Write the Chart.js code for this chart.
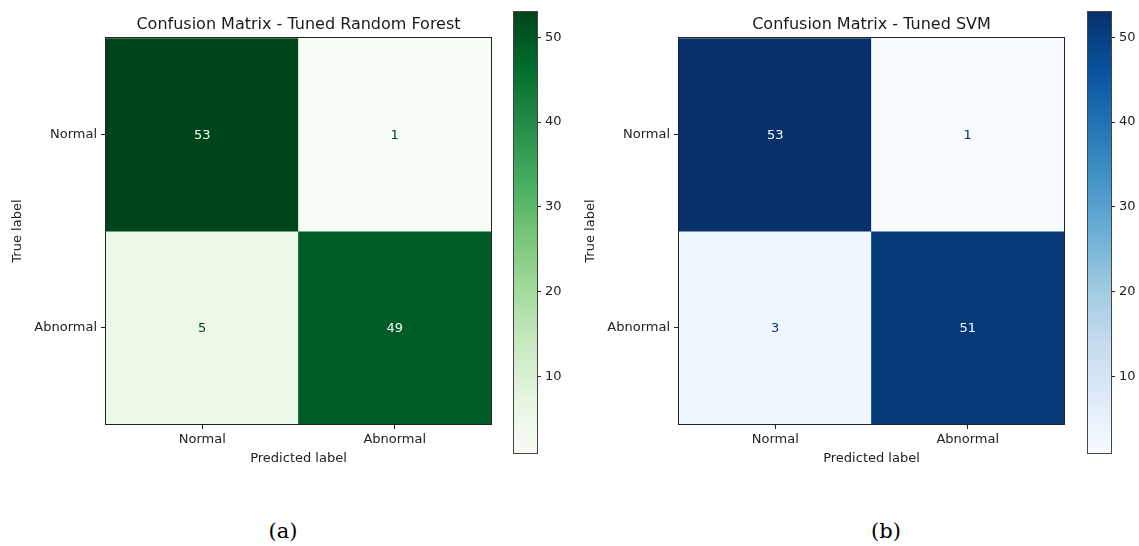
<!DOCTYPE html>
<html>
<head>
<meta charset="utf-8">
<script src="https://cdn.jsdelivr.net/npm/chart.js@4.4.1/dist/chart.umd.min.js"></script>
<style>
  html, body { margin: 0; padding: 0; background: #fff; width: 1139px; height: 546px; overflow: hidden; }
  canvas { position: absolute; }
  .cap { position: absolute; font-family: "DejaVu Serif", serif; font-size: 21px; color: #000;
         transform: translate(-50%, -50%); white-space: nowrap; }
</style>
</head>
<body>
<canvas id="rfMatrix" width="597" height="474" style="left:0px;top:0px"></canvas>
<canvas id="rfBar" width="110" height="470" style="left:480px;top:0px"></canvas>
<canvas id="svmMatrix" width="597" height="474" style="left:573px;top:0px"></canvas>
<canvas id="svmBar" width="110" height="470" style="left:1054px;top:0px"></canvas>
<div class="cap" style="left:283px;top:531px">(a)</div>
<div class="cap" style="left:886px;top:531px">(b)</div>

<script>
// Class names shared by both axes
const classLabels = ['Normal', 'Abnormal'];

// Rows = true label, columns = predicted label
const rfCounts = [[53, 1], [5, 49]];
const svmCounts = [[53, 1], [3, 51]];

// Colorbar tick values
const colorbarTicks = [10, 20, 30, 40, 50];

// Sequential colormaps (ColorBrewer 9-class)
const greens = ['#f7fcf5', '#e5f5e0', '#c7e9c0', '#a1d99b', '#74c476', '#41ab5d', '#238b45', '#006d2c', '#00441b'];
const blues  = ['#f7fbff', '#deebf7', '#c6dbef', '#9ecae1', '#6baed6', '#4292c6', '#2171b5', '#08519c', '#08306b'];

Chart.defaults.font.family = '"DejaVu Sans", sans-serif';
Chart.defaults.font.size = 13;
Chart.defaults.color = '#222';
Chart.defaults.animation = false;

function hexToRgb(h) {
  return [parseInt(h.slice(1, 3), 16), parseInt(h.slice(3, 5), 16), parseInt(h.slice(5, 7), 16)];
}
function sampleMap(stops, t) {
  t = Math.max(0, Math.min(1, t));
  const pos = t * (stops.length - 1);
  const i = Math.min(Math.floor(pos), stops.length - 2);
  const f = pos - i;
  const a = hexToRgb(stops[i]), b = hexToRgb(stops[i + 1]);
  const c = a.map((v, k) => Math.round(v + (b[k] - v) * f));
  return `rgb(${c[0]},${c[1]},${c[2]})`;
}

// Black frame around the plotting area
const framePlugin = {
  id: 'frame',
  afterDatasetsDraw(chart, args, opts) {
    const { ctx, chartArea: a } = chart;
    ctx.save();
    ctx.strokeStyle = opts.color || '#222';
    ctx.lineWidth = opts.width || 1;
    ctx.strokeRect(Math.round(a.left) - 0.5, Math.round(a.top) - 0.5,
                   Math.round(a.right - a.left) + 1, Math.round(a.bottom - a.top) + 1);
    ctx.restore();
  }
};

// Count written at the centre of each cell
const cellTextPlugin = {
  id: 'cellText',
  afterDatasetsDraw(chart, args, opts) {
    const { ctx } = chart;
    ctx.save();
    ctx.font = '13px "DejaVu Sans", sans-serif';
    ctx.textAlign = 'center';
    ctx.textBaseline = 'middle';
    chart.data.datasets.forEach((ds, di) => {
      const meta = chart.getDatasetMeta(di);
      meta.data.forEach((el, i) => {
        const v = ds.data[i].count;
        const p = el.getCenterPoint();
        ctx.fillStyle = v > opts.threshold ? opts.light : opts.dark;
        ctx.fillText(String(v), p.x, p.y + 1);
      });
    });
    ctx.restore();
  }
};

function drawMatrix(id, title, counts, stops) {
  const flat = counts.flat();
  const vmin = Math.min(...flat), vmax = Math.max(...flat);
  const norm = v => (v - vmin) / (vmax - vmin);

  const datasets = counts.map((row, r) => ({
    data: row.map((v, c) => ({ x: classLabels[c], y: [r - 0.5, r + 0.5], count: v })),
    backgroundColor: ctx => sampleMap(stops, norm(ctx.raw.count)),
    borderWidth: 0,
    barPercentage: 1,
    categoryPercentage: 1,
    grouped: false
  }));

  new Chart(document.getElementById(id), {
    type: 'bar',
    data: { labels: classLabels, datasets },
    options: {
      responsive: false,
      layout: { padding: 0 },
      plugins: {
        legend: { display: false },
        tooltip: { enabled: false },
        title: {
          display: true, text: title, color: '#1a1a1a',
          font: { size: 16, weight: 'normal' },
          padding: { top: 15, bottom: 4 }
        },
        frame: { color: '#222', width: 1 },
        cellText: { threshold: (vmin + vmax) / 2, light: stops[0], dark: stops[stops.length - 1] }
      },
      scales: {
        x: {
          type: 'category',
          offset: true,
          grid: { offset: false, drawOnChartArea: false, drawTicks: true, tickLength: 5, color: '#222' },
          border: { display: false },
          ticks: { padding: 3, color: '#222', maxRotation: 0 },
          title: { display: true, text: 'Predicted label', color: '#222', padding: { top: 0, bottom: 8 } },
          afterFit: s => { s.height = 50; }
        },
        y: {
          type: 'linear',
          reverse: true,
          min: -0.5,
          max: 1.5,
          afterBuildTicks: s => { s.ticks = classLabels.map((_, i) => ({ value: i })); },
          grid: { drawOnChartArea: false, drawTicks: true, tickLength: 5, color: '#222' },
          border: { display: false },
          ticks: { padding: 4, color: '#222', callback: v => classLabels[v] },
          title: { display: true, text: 'True label', color: '#222', padding: { top: 10, bottom: 0 } },
          afterFit: s => { s.width = 106; }
        },
        // empty right-hand band so the title stays centred over the cells
        yRight: {
          type: 'linear',
          position: 'right',
          grid: { display: false },
          border: { display: false },
          ticks: { display: false },
          afterFit: s => { s.width = 106; }
        }
      }
    },
    plugins: [framePlugin, cellTextPlugin]
  });
}

function drawColorbar(id, counts, stops) {
  const flat = counts.flat();
  const vmin = Math.min(...flat), vmax = Math.max(...flat);

  new Chart(document.getElementById(id), {
    type: 'bar',
    data: {
      labels: [''],
      datasets: [{
        data: [[vmin, vmax]],
        backgroundColor: ctx => {
          const { chart } = ctx;
          if (!chart.chartArea) return stops[0];
          const ys = chart.scales.y;
          const g = chart.ctx.createLinearGradient(0, ys.getPixelForValue(vmin), 0, ys.getPixelForValue(vmax));
          stops.forEach((s, i) => g.addColorStop(i / (stops.length - 1), s));
          return g;
        },
        borderWidth: 0,
        barPercentage: 1,
        categoryPercentage: 1
      }]
    },
    options: {
      responsive: false,
      layout: { padding: { left: 34, right: 0, top: 11, bottom: 17 } },
      plugins: {
        legend: { display: false },
        tooltip: { enabled: false },
        frame: { color: '#444', width: 1 }
      },
      scales: {
        x: { type: 'category', display: false, offset: true },
        y: {
          type: 'linear',
          position: 'right',
          min: vmin,
          max: vmax,
          afterBuildTicks: s => { s.ticks = colorbarTicks.map(v => ({ value: v })); },
          grid: { drawOnChartArea: false, drawTicks: true, tickLength: 4, color: '#222' },
          border: { display: false },
          ticks: { padding: 4, color: '#222' },
          afterFit: s => { s.width = 53; }
        }
      }
    },
    plugins: [framePlugin]
  });
}

drawMatrix('rfMatrix', 'Confusion Matrix - Tuned Random Forest', rfCounts, greens);
drawColorbar('rfBar', rfCounts, greens);
drawMatrix('svmMatrix', 'Confusion Matrix - Tuned SVM', svmCounts, blues);
drawColorbar('svmBar', svmCounts, blues);
</script>
</body>
</html>
